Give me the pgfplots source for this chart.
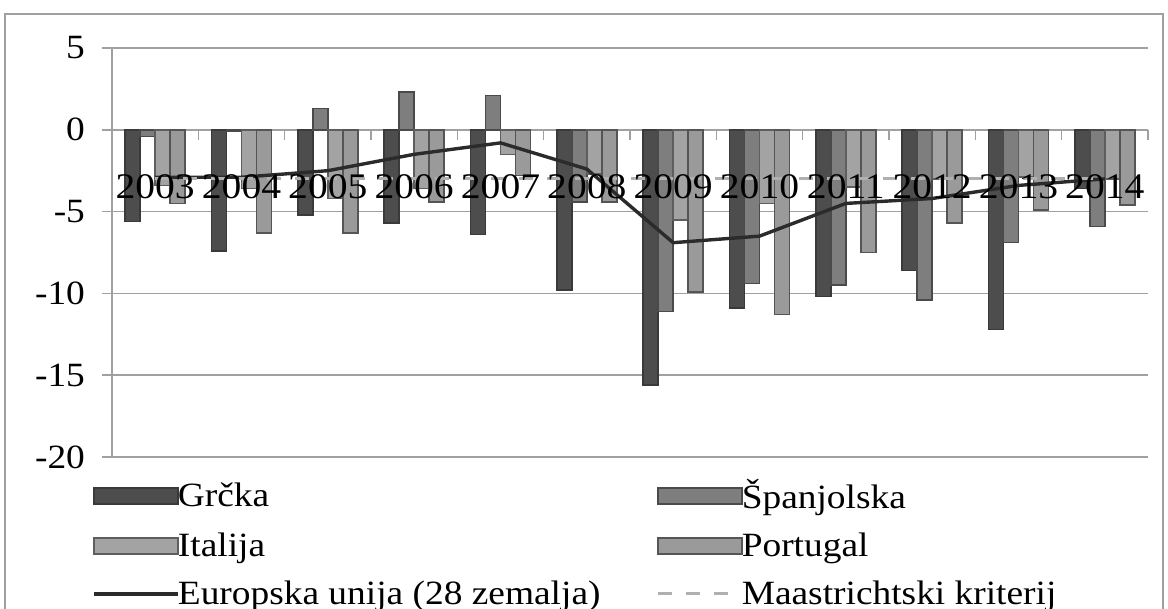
\documentclass[border=0pt]{standalone}
\usepackage{pgfplots}
\pgfplotsset{compat=1.18}
\usepackage{fontspec}
\setmainfont[FakeStretch=1.1]{Liberation Serif}

\definecolor{cGr}{HTML}{4D4D4D}
\definecolor{cGrD}{HTML}{3A3A3A}
\definecolor{cEs}{HTML}{7E7E7E}
\definecolor{cEsD}{HTML}{4A4A4A}
\definecolor{cIt}{HTML}{A3A3A3}
\definecolor{cItD}{HTML}{5E5E5E}
\definecolor{cPt}{HTML}{9A9A9A}
\definecolor{cPtD}{HTML}{555555}
\definecolor{cEU}{HTML}{2B2B2B}
\definecolor{cM}{HTML}{B0B0B0}
\definecolor{cGrid}{HTML}{A0A0A0}

\begin{document}
\begin{tikzpicture}[x=1pt,y=1pt]
\path[use as bounding box] (0,0) rectangle (584,304.5);
\draw[cGrid, line width=1pt] (2.5,-20) rectangle (581.5,297.5);
\begin{axis}[
  at={(56pt,76pt)}, anchor=south west, scale only axis,
  width=518pt, height=204.5pt,
  xmin=-0.5, xmax=11.5, ymin=-20, ymax=5,
  axis x line=middle, axis y line=left,
  axis line style={-, draw=cGrid, line width=0.8pt},
  ytick={-20,-15,-10,-5,0,5},
  ymajorgrids, grid style={cGrid, line width=0.8pt},
  xtick={-0.5,0.5,...,11.5}, xticklabels={},
  xtick align=outside, ytick align=outside,
  major tick length=5pt,
  tick style={cGrid, line width=0.8pt},
  /pgf/number format/assume math mode=true,
  yticklabel style={font=\fontsize{17}{20}\selectfont, xshift=-5pt},
  clip=false,
  legend columns=2,
  legend cell align=left,
  legend style={at={(-0.025,-0.035)}, anchor=north west, draw=none, fill=none,
    font=\fontsize{17}{19}\selectfont, row sep=6.5pt,
    /tikz/every even column/.append style={column sep=26pt},
    /tikz/every odd column/.append style={column sep=-3pt}},
]
\addplot[ybar, bar width=7.5pt, bar shift=-11.25pt, fill=cGr, draw=cGrD, line width=0.8pt,
  legend image code/.code={\draw[fill=cGr, draw=cGrD, line width=1pt] (0pt,-4pt) rectangle (42pt,4pt);}]
  coordinates {(0,-5.6) (1,-7.4) (2,-5.2) (3,-5.7) (4,-6.4) (5,-9.8) (6,-15.6) (7,-10.9) (8,-10.2) (9,-8.6) (10,-12.2) (11,-3.6)};
\addlegendentry{Grčka}
\addplot[ybar, bar width=7.5pt, bar shift=-3.75pt, fill=cEs, draw=cEsD, line width=0.8pt,
  legend image code/.code={\draw[fill=cEs, draw=cEsD, line width=1pt] (0pt,-4pt) rectangle (42pt,4pt);}]
  coordinates {(0,-0.4) (1,-0.1) (2,1.3) (3,2.3) (4,2.1) (5,-4.4) (6,-11.1) (7,-9.4) (8,-9.5) (9,-10.4) (10,-6.9) (11,-5.9)};
\addlegendentry{Španjolska}
\addplot[ybar, bar width=7.5pt, bar shift=3.75pt, fill=cIt, draw=cItD, line width=0.8pt,
  legend image code/.code={\draw[fill=cIt, draw=cItD, line width=1pt] (0pt,-4pt) rectangle (42pt,4pt);}]
  coordinates {(0,-3.4) (1,-3.6) (2,-4.2) (3,-3.6) (4,-1.5) (5,-2.7) (6,-5.5) (7,-4.5) (8,-3.5) (9,-3.0) (10,-2.9) (11,-3.0)};
\addlegendentry{Italija}
\addplot[ybar, bar width=7.5pt, bar shift=11.25pt, fill=cPt, draw=cPtD, line width=0.8pt,
  legend image code/.code={\draw[fill=cPt, draw=cPtD, line width=1pt] (0pt,-4pt) rectangle (42pt,4pt);}]
  coordinates {(0,-4.5) (1,-6.3) (2,-6.3) (3,-4.4) (4,-2.8) (5,-4.4) (6,-9.9) (7,-11.3) (8,-7.5) (9,-5.7) (10,-4.9) (11,-4.6)};
\addlegendentry{Portugal}
\addplot[sharp plot, cEU, line width=1.7pt, mark=none,
  legend image code/.code={\draw[cEU, line width=1.7pt] (0pt,0pt) -- (42pt,0pt);}]
  coordinates {(0,-2.9) (1,-2.9) (2,-2.5) (3,-1.5) (4,-0.8) (5,-2.4) (6,-6.9) (7,-6.5) (8,-4.5) (9,-4.2) (10,-3.4) (11,-3.0)};
\addlegendentry{Europska unija (28 zemalja)}
\addplot[sharp plot, cM, line width=1.4pt, mark=none, dash pattern=on 7pt off 7pt,
  legend image code/.code={\draw[cM, line width=1.6pt, dash pattern=on 7pt off 7pt] (0pt,0pt) -- (42pt,0pt);}]
  coordinates {(0,-3) (1,-3) (2,-3) (3,-3) (4,-3) (5,-3) (6,-3) (7,-3) (8,-3) (9,-3) (10,-3) (11,-3)};
\addlegendentry{Maastrichtski kriterij}
\node[font=\fontsize{18}{20}\selectfont] at (axis cs:0,-3.5) {2003};
\node[font=\fontsize{18}{20}\selectfont] at (axis cs:1,-3.5) {2004};
\node[font=\fontsize{18}{20}\selectfont] at (axis cs:2,-3.5) {2005};
\node[font=\fontsize{18}{20}\selectfont] at (axis cs:3,-3.5) {2006};
\node[font=\fontsize{18}{20}\selectfont] at (axis cs:4,-3.5) {2007};
\node[font=\fontsize{18}{20}\selectfont] at (axis cs:5,-3.5) {2008};
\node[font=\fontsize{18}{20}\selectfont] at (axis cs:6,-3.5) {2009};
\node[font=\fontsize{18}{20}\selectfont] at (axis cs:7,-3.5) {2010};
\node[font=\fontsize{18}{20}\selectfont] at (axis cs:8,-3.5) {2011};
\node[font=\fontsize{18}{20}\selectfont] at (axis cs:9,-3.5) {2012};
\node[font=\fontsize{18}{20}\selectfont] at (axis cs:10,-3.5) {2013};
\node[font=\fontsize{18}{20}\selectfont] at (axis cs:11,-3.5) {2014};
\end{axis}
\end{tikzpicture}
\end{document}
